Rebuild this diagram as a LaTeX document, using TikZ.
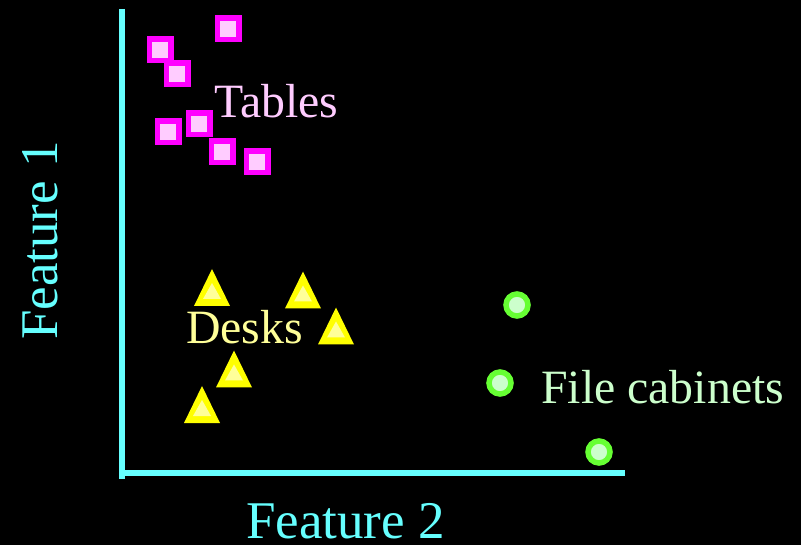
\documentclass[tikz,border=0pt]{standalone}
\usepackage{fontspec}
\setmainfont{Liberation Serif}
\definecolor{axiscol}{HTML}{66FFFF}
\definecolor{tabout}{HTML}{FF00FF}
\definecolor{tabin}{HTML}{FFCCFF}
\definecolor{deskout}{HTML}{FFFF00}
\definecolor{deskin}{HTML}{FFFF99}
\definecolor{cabout}{HTML}{66FF33}
\definecolor{cabin}{HTML}{CCFFCC}
\begin{document}
\begin{tikzpicture}[x=1pt,y=-1pt,
  axisline/.style={draw=axiscol,line width=6pt},
  tablemark/.style={draw=tabout,fill=tabin,line width=5.5pt,minimum size=21.5pt,inner sep=0pt,shape=rectangle},
  cabmark/.style={draw=cabout,fill=cabin,line width=5.5pt,minimum size=22pt,inner sep=0pt,shape=circle},
  desk/.pic={\fill[deskout] (0,-18.5) -- (18,18.5) -- (-18,18.5) -- cycle;
             \fill[deskin] (0,-4.5) -- (9,11.5) -- (-9,11.5) -- cycle;},
  biglabel/.style={font=\fontsize{47.8}{50}\selectfont,inner sep=0pt,anchor=base west},
  axislabel/.style={font=\fontsize{53}{56}\selectfont,text=axiscol,inner sep=0pt,anchor=base west}]
\fill[black] (0,0) rectangle (801,545);
\useasboundingbox (0,0) rectangle (801,545);
% axes
\coordinate (ytop) at (122,9);
\coordinate (ybot) at (122,479);
\coordinate (xleft) at (119,473);
\coordinate (xright) at (625,473);
\draw[axisline] (ytop) -- (ybot);
\draw[axisline] (xleft) -- (xright);
% tables
\node[tablemark] (t1) at (228,29) {};
\node[tablemark] (t2) at (160,50) {};
\node[tablemark] (t3) at (177,74) {};
\node[tablemark] (t4) at (168,132) {};
\node[tablemark] (t5) at (199,124) {};
\node[tablemark] (t6) at (222,152) {};
\node[tablemark] (t7) at (257,162) {};
% desks
\pic at (212,287.5) {desk};
\pic at (303,290) {desk};
\pic at (336,326) {desk};
\pic at (234,369) {desk};
\pic at (202,404.5) {desk};
% file cabinets
\node[cabmark] (c1) at (517,305) {};
\node[cabmark] (c2) at (500,383) {};
\node[cabmark] (c3) at (599,452) {};
% labels
\node[biglabel,text=tabin] (ltables) at (214,118) {Tables};
\node[biglabel,text=deskin] (ldesks) at (186,344) {Desks};
\node[biglabel,text=cabin] (lcab) at (541,403) {File cabinets};
\node[axislabel] (lf2) at (246,538) {Feature 2};
\node[axislabel,rotate=90] (lf1) at (57,340) {Feature 1};
\end{tikzpicture}
\end{document}
